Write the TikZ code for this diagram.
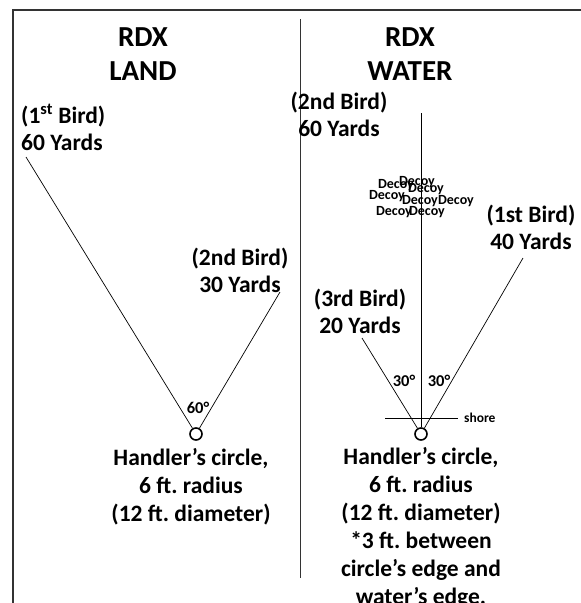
\documentclass[tikz,border=0pt]{standalone}
\usepackage{fontspec}
\setmainfont{Carlito}
\usetikzlibrary{positioning}
\frenchspacing

\begin{document}
\begin{tikzpicture}[x=1pt, y=-1pt,
                    title/.style = {font=\bfseries\fontsize{29}{34}\selectfont, align=center},
                    lbl/.style = {font=\bfseries\fontsize{23.5}{27}\selectfont, inner sep=0pt},
                    hlbl/.style = {font=\bfseries\fontsize{23.5}{28}\selectfont, inner sep=0pt, align=center},
                    decoy/.style = {font=\bfseries\fontsize{14}{14}\selectfont, inner sep=0pt},
                    deg/.style = {font=\bfseries\fontsize{16.5}{18}\selectfont, inner sep=0pt},
                    handler/.style = {circle, draw, line width=1.6pt, minimum size=12pt, inner sep=0pt},
                    ray/.style = {line width=0.7pt}]
  \clip (0,0) rectangle (581,603);
  \useasboundingbox (0,0) rectangle (581,603);
  % frame and divider
  \draw [line width=1.4pt, black!80] (13,603) -- (13,10) -- (581,10);
  \draw [line width=1pt, black!80] (300,19) -- (300,578);

  % land
  \node [title] (tland) at (143,54) {RDX\\LAND};
  \node [lbl, anchor=west, align=left] (b1land) at (21,127) {(1\textsuperscript{st} Bird)\\60 Yards};
  \node [lbl, align=center] (b2land) at (240,270) {(2nd Bird)\\30 Yards};
  \node [handler] (hland) at (196,434) {};
  \node [deg] (aland) at (198,408) {60°};
  \node [hlbl] (tland2) at (191,487) {Handler’s circle,\\6 ft. radius\\(12 ft. diameter)};
  \coordinate (e1land) at (26,157);
  \coordinate (e2land) at (280,292);
  \draw [ray] (e1land) -- (hland);
  \draw [ray] (e2land) -- (hland);

  % water
  \node [title] (twater) at (410,54) {RDX\\WATER};
  \node [lbl, align=center] (b2water) at (339,114) {(2nd Bird)\\60 Yards};
  \node [lbl, align=center] (b1water) at (531,227) {(1st Bird)\\40 Yards};
  \node [lbl, align=center] (b3water) at (360,311) {(3rd Bird)\\20 Yards};
  \node [handler] (hwater) at (421,434) {};
  \coordinate (e2water) at (421,113);
  \coordinate (e1water) at (523,258);
  \coordinate (e3water) at (362,338);
  \draw [ray] (e2water) -- (hwater);
  \draw [ray] (e1water) -- (hwater);
  \draw [ray] (e3water) -- (hwater);
  \node [deg] (a1water) at (404,381) {30°};
  \node [deg] (a2water) at (439,381) {30°};
  \coordinate (s1) at (385,418);
  \coordinate (s2) at (458,418);
  \draw [ray] (s1) -- (s2);
  \node [font=\bfseries\fontsize{13.5}{14}\selectfont, inner sep=0pt, right=6pt of s2] (shore) {shore};
  \node [decoy] (d1) at (417,182) {Decoy};
  \node [decoy] (d2) at (396,185) {Decoy};
  \node [decoy] (d3) at (426,189) {Decoy};
  \node [decoy] (d4) at (387,196) {Decoy};
  \node [decoy] (d5) at (420,201) {Decoy};
  \node [decoy] (d6) at (456,201) {Decoy};
  \node [decoy] (d7) at (394,212) {Decoy};
  \node [decoy] (d8) at (427,212) {Decoy};
  \node [hlbl] (twater2) at (421,528) {Handler’s circle,\\6 ft. radius\\(12 ft. diameter)\\*3 ft. between\\circle’s edge and\\water’s edge.};
\end{tikzpicture}
\end{document}
